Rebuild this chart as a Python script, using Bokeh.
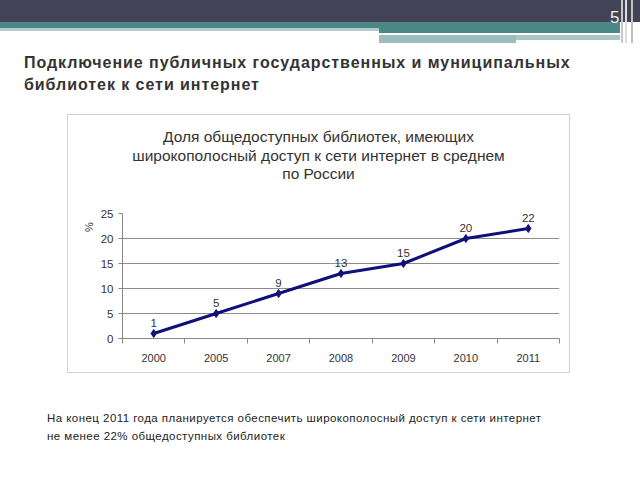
from bokeh.plotting import figure
from bokeh.models import FixedTicker, Label, Div, Spacer
from bokeh.layouts import column, row
from bokeh.embed import file_html
from bokeh.resources import INLINE
from bokeh.core.properties import value

# ---- data ----
years = ["2000", "2005", "2007", "2008", "2009", "2010", "2011"]
share = [1, 5, 9, 13, 15, 20, 22]
y_ticks = [0, 5, 10, 15, 20, 25]

slide_title = ["Подключение публичных государственных и муниципальных",
               "библиотек к сети интернет"]
chart_title = ["Доля общедоступных библиотек, имеющих",
               "широкополосный доступ к сети интернет в среднем",
               "по России"]
footer = ["На конец 2011 года планируется обеспечить широкополосный доступ к сети интернет",
          "не менее 22% общедоступных библиотек"]
page_no = "5"

FONT = "Liberation Sans"

# ---------------- header (decoration + slide title) ----------------
def bar(x0, y0, x1, y1, c):
    return (f'<div style="position:absolute;left:{x0}px;top:{y0}px;'
            f'width:{x1 - x0}px;height:{y1 - y0}px;background:{c};"></div>')


def txt(x, top, s, size, color, weight="normal", spacing=0):
    return (f'<div style="position:absolute;left:{x}px;top:{top}px;'
            f'font-family:\'{FONT}\';font-size:{size}px;line-height:{size}px;'
            f'color:{color};font-weight:{weight};letter-spacing:{spacing}px;'
            f'white-space:nowrap;">{s}</div>')


head_html = '<div style="position:relative;width:640px;height:114px;overflow:hidden;">'
head_html += bar(0, 0, 640, 22, "#434357")
head_html += bar(0, 22, 620, 28, "#4a8785")
head_html += bar(379, 28, 620, 33, "#4a8785")
head_html += bar(0, 28, 379, 31, "#b3cbcb")
head_html += bar(379, 35, 516, 43, "#9dbdbd")
head_html += bar(516, 35, 620, 40, "#a9c6c6")
for vx, c in [(621, "#c8c8c8"), (625, "#dddddd"), (631, "#c0c0c0")]:
    head_html += bar(vx, 0, vx + 2, 43, c)
head_html += txt(610, 23 - 0.8465 * 17, page_no, 17, "#eeeeee")
head_html += txt(24, 68.5 - 0.8465 * 16, slide_title[0], 16, "#333333", "bold", 0.95)
head_html += txt(24, 91 - 0.8465 * 16, slide_title[1], 16, "#333333", "bold", 0.95)
head_html += '</div>'
header = Div(text=head_html, width=640, height=114, margin=0)

# ---------------- chart ----------------
# figure inner 503x259 placed at canvas (68,115); frame: x 122..559, y top..338
PX_PER_UNIT_Y = 5.0
FRAME_H = 338 - 115
xs = [i + 0.5 for i in range(len(years))]

p = figure(width=503, height=259, output_backend="svg", toolbar_location=None,
           x_range=(0, len(years)), y_range=(0, FRAME_H / PX_PER_UNIT_Y),
           min_border_left=122 - 68, min_border_right=503 - (559 - 68),
           min_border_top=0, min_border_bottom=259 - FRAME_H,
           styles={"border": "1px solid #d2d2d2"}, margin=0)
p.outline_line_color = None
p.background_fill_color = "white"
p.border_fill_color = "white"

p.xaxis.ticker = FixedTicker(ticks=xs, minor_ticks=list(range(len(years) + 1)))
p.xaxis.major_label_overrides = {x: y for x, y in zip(xs, years)}
p.xaxis.major_tick_line_color = None
p.xaxis.minor_tick_line_color = "#888888"
p.xaxis.minor_tick_out = 5
p.xaxis.minor_tick_in = 0
p.xaxis.axis_line_color = "#888888"
p.xaxis.major_label_text_font = FONT
p.xaxis.major_label_text_font_size = "11px"
p.xaxis.major_label_text_color = "#333333"
p.xaxis.major_label_standoff = 9

p.yaxis.ticker = FixedTicker(ticks=y_ticks)
p.yaxis.bounds = (0, 25)
p.yaxis.minor_tick_line_color = None
p.yaxis.major_tick_line_color = "#888888"
p.yaxis.major_tick_out = 4
p.yaxis.major_tick_in = 0
p.yaxis.axis_line_color = "#888888"
p.yaxis.major_label_text_font = FONT
p.yaxis.major_label_text_font_size = "11.5px"
p.yaxis.major_label_text_color = "#333333"
p.yaxis.major_label_standoff = 5
p.yaxis.axis_label = "%"
p.yaxis.axis_label_text_font = FONT
p.yaxis.axis_label_text_font_size = "11px"
p.yaxis.axis_label_text_font_style = "normal"
p.yaxis.axis_label_text_color = "#333333"
p.yaxis.axis_label_standoff = 3

p.xgrid.grid_line_color = None
p.ygrid.ticker = FixedTicker(ticks=y_ticks[1:-1])
p.ygrid.grid_line_color = "#8c8c8c"
p.ygrid.grid_line_width = 1

p.line(xs, share, line_color="#10107a", line_width=3)
p.scatter(xs, share, marker="diamond", size=8, fill_color="#10107a",
          line_color="#10107a")
p.text(xs, [v + 1.3 for v in share], text=[str(v) for v in share],
       text_font=value(FONT), text_font_size="11.5px", text_color="#333333",
       text_align="center", text_baseline="bottom")

# chart title inside frame (data units)
title_x = (318 - 122) / (437 / len(years))
for i, t in enumerate(chart_title):
    base_y = 136 + i * 18.5
    p.add_layout(Label(x=title_x, y=(338 - base_y) / PX_PER_UNIT_Y, text=t,
                       text_font=FONT, text_font_size="15.5px",
                       text_color="#333333", text_align="center",
                       text_baseline="alphabetic"))

chart_row = row(Spacer(width=67, height=261, margin=0), p, margin=0)

# ---------------- footer ----------------
foot_html = '<div style="position:relative;width:640px;height:105px;">'
foot_html += txt(47, (423 - 375) - 0.8465 * 11.5, footer[0], 11.5, "#222222", spacing=0.45)
foot_html += txt(47, (441 - 375) - 0.8465 * 11.5, footer[1], 11.5, "#222222", spacing=0.45)
foot_html += '</div>'
footer_div = Div(text=foot_html, width=640, height=105, margin=0)

layout = column(header, chart_row, footer_div, margin=0, spacing=0)

open("out.html", "w").write(file_html(layout, INLINE))
